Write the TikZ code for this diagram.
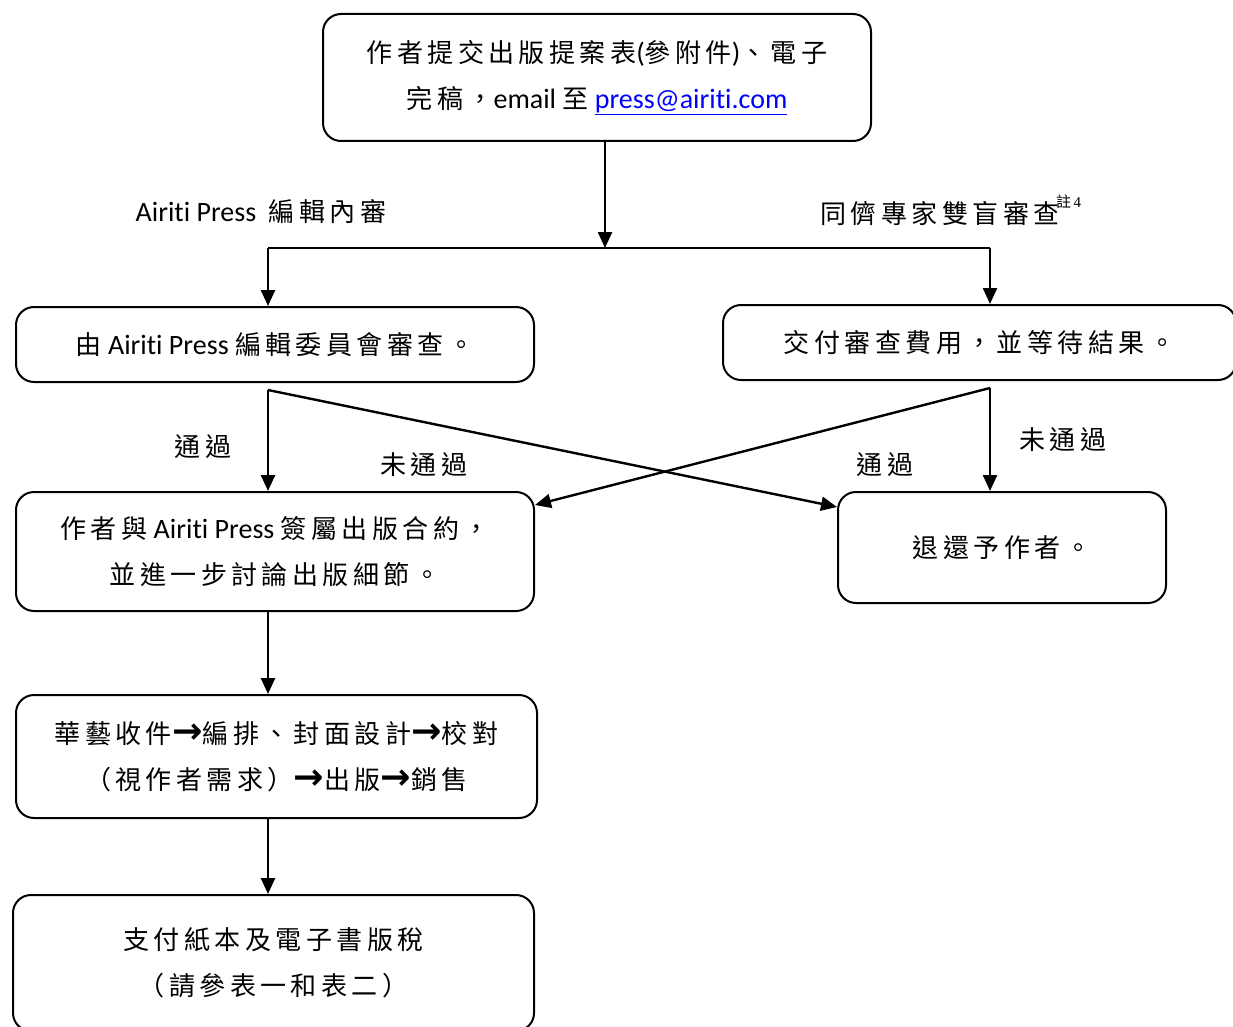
\documentclass[tikz,border=0pt]{standalone}
\usepackage{fontspec}
\setmainfont{Carlito}[Ligatures=NoCommon]
\newfontfamily\cjk{Noto Sans CJK TC}[Scale=0.93,LetterSpace=17]
\newfontfamily\cjkn{Noto Sans CJK TC}
\newfontfamily\tnr{Liberation Serif}
\newfontfamily\arrfont{DejaVu Sans}[Scale=1.3]
\usetikzlibrary{arrows.meta,calc}
\definecolor{linkblue}{RGB}{0,0,255}
\newcommand\C[1]{{\cjk #1}}
\newcommand\Ar{{\arrfont\bfseries →}}
\begin{document}
\begin{tikzpicture}[x=1pt,y=-1pt,
  box/.style={draw, line width=2pt, rounded corners=18pt, align=center, inner sep=0pt,
    font=\fontsize{28}{46}\selectfont},
  lbl/.style={font=\fontsize{28}{34}\selectfont, inner sep=0pt},
  ln/.style={line width=2.4pt},
  arr/.style={line width=2.4pt, -{Triangle[length=16pt,width=14pt]}}]
\clip (0,0) rectangle (1233,1027);
\fill[white] (0,0) rectangle (1233,1027);
% boxes
\node[box, minimum width=548pt, minimum height=127pt] (top) at (597,77.5)
  {\C{作者提交出版提案表}(\C{參附件})\C{、電子}\\ \C{完稿，}email \C{至} {\color{linkblue}\underline{press@airiti.com}}};
\node[box, minimum width=518pt, minimum height=75pt] (b2l) at (275,344.5)
  {\C{由} Airiti Press \C{編輯委員會審查。}};
\node[box, minimum width=513pt, minimum height=75pt] (b2r) at (979.5,342.5)
  {\C{交付審查費用，並等待結果。}};
\node[box, minimum width=518pt, minimum height=119pt] (b3) at (275,551.5)
  {\C{作者與} Airiti Press \C{簽屬出版合約，}\\ \C{並進一步討論出版細節。}};
\node[box, minimum width=328pt, minimum height=111pt] (b4) at (1002,547.5)
  {\C{退還予作者。}};
\node[box, minimum width=521pt, minimum height=123pt] (b5) at (276.5,756.5)
  {\C{華藝收件}\Ar\C{編排、封面設計}\Ar\C{校對}\\ \C{（視作者需求）}\Ar\C{出版}\Ar\C{銷售}};
\node[box, minimum width=521pt, minimum height=136pt] (b6) at (273.5,963)
  {\C{支付紙本及電子書版稅}\\ \C{（請參表一和表二）}};
% labels
\node[lbl] (l1) at (261,212) {Airiti Press\ \ \C{編輯內審}};
\node[lbl] (l2) at (940,213) {\C{同儕專家雙盲審查}};
\node[font=\fontsize{15}{15}\selectfont, anchor=west, inner sep=0pt] (note) at (1056,202) {{\cjkn 註}\,{\tnr 4}};
\node[lbl] (l3) at (203,447) {\C{通過}};
\node[lbl] (l4) at (424,465) {\C{未通過}};
\node[lbl] (l5) at (885,465) {\C{通過}};
\node[lbl] (l6) at (1063,440) {\C{未通過}};
% connectors
\coordinate (j) at (605,248);
\coordinate (jl) at (268,248);
\coordinate (jr) at (990,248);
\coordinate (sl) at (268,390);
\coordinate (sr) at (990,388);
\draw[arr] (top.south -| j) -- (j);
\draw[ln] (jl) -- (jr);
\draw[arr] (jl) -- (jl |- b2l.north);
\draw[arr] (jr) -- (jr |- b2r.north);
\draw[arr] (sl) -- (sl |- b3.north);
\draw[arr] (sl) -- ([yshift=-16pt]b4.north west);
\draw[arr] (sr) -- ([yshift=-14pt]b3.north east);
\draw[arr] (sr) -- (sr |- b4.north);
\draw[arr] (b3.south -| sl) -- (b5.north -| sl);
\draw[arr] (b5.south -| sl) -- (b6.north -| sl);
\end{tikzpicture}
\end{document}
